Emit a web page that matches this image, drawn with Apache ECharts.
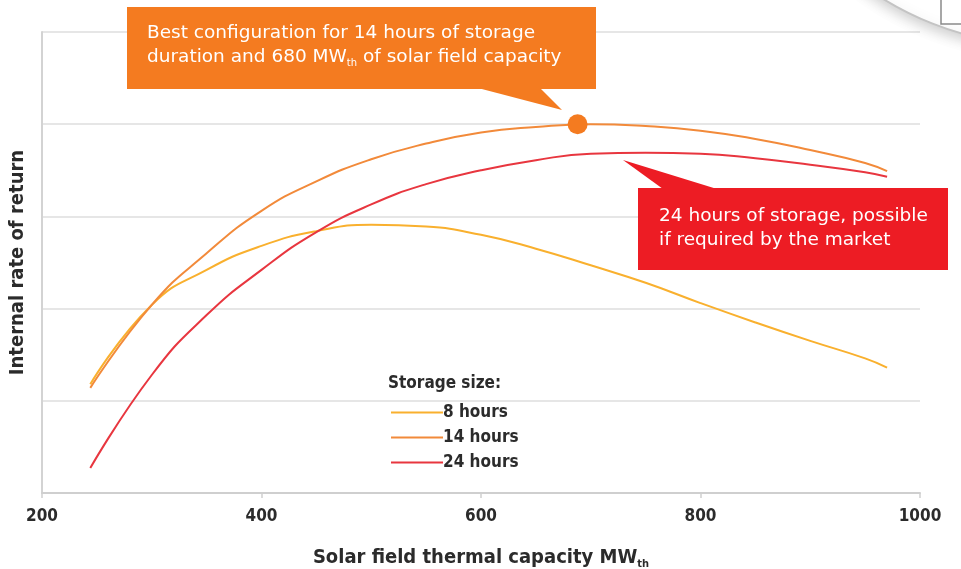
<!DOCTYPE html>
<html>
<head>
<meta charset="utf-8">
<script src="https://cdn.jsdelivr.net/npm/echarts@6/dist/echarts.min.js"></script>
<style>
  html, body { margin: 0; padding: 0; background: #fff; }
  #main { width: 961px; height: 569px; }
</style>
</head>
<body>
<div id="main"></div>
<script>
// solar field capacity (MWth) where the curves were read
var capacity = [244, 300, 350, 400, 450, 500, 550, 600, 650, 700, 750, 800, 850, 900, 950, 970];
// internal rate of return, arbitrary units (no y tick labels in the source)
var irr8h  = [1.18, 2.04, 2.42, 2.68, 2.84, 2.91, 2.89, 2.80, 2.65, 2.47, 2.28, 2.06, 1.85, 1.65, 1.46, 1.36];
var irr14h = [1.14, 2.04, 2.60, 3.06, 3.38, 3.62, 3.79, 3.91, 3.97, 4.00, 3.98, 3.93, 3.84, 3.72, 3.58, 3.49];
var irr24h = [0.27, 1.28, 1.93, 2.42, 2.83, 3.13, 3.35, 3.50, 3.61, 3.68, 3.69, 3.68, 3.63, 3.56, 3.48, 3.43];
var xTicks = [200, 400, 600, 800, 1000];
var bestPoint = [688, 4.0];

var condensed = '"Liberation Sans Narrow", "DejaVu Sans Condensed", sans-serif';
var bodyFont = '"DejaVu Sans", "Open Sans", sans-serif';

function pairs(xs, ys) {
  return xs.map(function (x, i) { return [x, ys[i]]; });
}

var chart = echarts.init(document.getElementById('main'));

var option = {
  backgroundColor: '#fff',
  animation: false,
  grid: { left: 42, right: 41, top: 32, bottom: 76, outerBoundsMode: 'none' },
  xAxis: {
    type: 'value',
    min: 200, max: 1000, interval: 200,
    name: 'Solar field thermal capacity MW{sub|th}',
    nameLocation: 'middle',
    nameGap: 52,
    nameTextStyle: {
      fontFamily: condensed, fontWeight: 'bold', fontSize: 20, color: '#2b2b2b',
      rich: { sub: { fontFamily: condensed, fontWeight: 'bold', fontSize: 11, color: '#2b2b2b', padding: [14, 0, 0, 0] } }
    },
    axisLine: { lineStyle: { color: '#cfcfcf', width: 2 } },
    axisTick: { show: true, length: 5, lineStyle: { color: '#cfcfcf', width: 1.5 } },
    axisLabel: {
      fontFamily: condensed, fontWeight: 'bold', fontSize: 17, color: '#2b2b2b', margin: 15,
      formatter: function (v) { return xTicks.indexOf(v) >= 0 ? String(v) : ''; }
    },
    splitLine: { show: false }
  },
  yAxis: {
    type: 'value',
    min: 0, max: 5, interval: 1,
    name: 'Internal rate of return',
    nameLocation: 'middle',
    nameGap: 14,
    nameTextStyle: { fontFamily: condensed, fontWeight: 'bold', fontSize: 20, color: '#2b2b2b' },
    axisLine: { show: true, lineStyle: { color: '#d3d3d3', width: 2 } },
    axisTick: { show: false },
    axisLabel: { show: false },
    splitLine: { lineStyle: { color: '#dedede', width: 1.5 } }
  },
  legend: {
    orient: 'vertical',
    left: 386, top: 399,
    itemWidth: 52, itemHeight: 2, itemGap: 8,
    icon: 'rect',
    textStyle: { fontFamily: condensed, fontWeight: 'bold', fontSize: 17, color: '#2b2b2b', padding: [0, 0, 0, -5] },
    data: ['8 hours', '14 hours', '24 hours']
  },
  series: [
    {
      name: '8 hours', type: 'line', smooth: true, showSymbol: false,
      data: pairs(capacity, irr8h),
      itemStyle: { color: '#F9B02E' },
      lineStyle: { color: '#F9B02E', width: 2 }
    },
    {
      name: '14 hours', type: 'line', smooth: true, showSymbol: false,
      data: pairs(capacity, irr14h),
      itemStyle: { color: '#F28A3A' },
      lineStyle: { color: '#F28A3A', width: 2 },
      markPoint: {
        symbol: 'circle', symbolSize: 20,
        itemStyle: { color: '#F47B20' },
        label: { show: false },
        data: [{ coord: bestPoint }]
      }
    },
    {
      name: '24 hours', type: 'line', smooth: true, showSymbol: false,
      data: pairs(capacity, irr24h),
      itemStyle: { color: '#E8363F' },
      lineStyle: { color: '#E8363F', width: 2 }
    }
  ],
  graphic: [
    // page-curl decoration top right
    {
      type: 'circle', z: 50,
      shape: { cx: 1045, cy: -262, r: 307 },
      style: { fill: '#fff', stroke: '#c4c4c4', lineWidth: 2, shadowBlur: 14, shadowColor: 'rgba(0,0,0,0.2)', shadowOffsetY: 4 }
    },
    {
      type: 'rect', z: 51,
      shape: { x: 941, y: -4, width: 40, height: 28 },
      style: { fill: '#fff', stroke: '#8a8a8a', lineWidth: 1.5 }
    },
    // legend heading
    {
      type: 'text', left: 388, top: 375, z: 60,
      style: { text: 'Storage size:', fontFamily: condensed, fontWeight: 'bold', fontSize: 17, fill: '#2b2b2b' }
    },
    // orange callout
    {
      type: 'polygon', z: 60,
      shape: { points: [[478, 88], [540, 88], [562, 110]] },
      style: { fill: '#F47B20' }
    },
    {
      type: 'rect', z: 60,
      shape: { x: 127, y: 7, width: 469, height: 82 },
      style: { fill: '#F47B20' }
    },
    {
      type: 'text', z: 61, left: 147, top: 21,
      style: {
        text: 'Best configuration for 14 hours of storage\nduration and 680 MW{sub|th} of solar field capacity',
        fontFamily: bodyFont, fontSize: 18.5, lineHeight: 24, fill: '#fff',
        rich: { sub: { fontFamily: bodyFont, fontSize: 10, fill: '#fff', padding: [12, 0, 0, 0] } }
      }
    },
    // red callout
    {
      type: 'polygon', z: 60,
      shape: { points: [[623, 160], [663, 189], [717, 189]] },
      style: { fill: '#ED1C24' }
    },
    {
      type: 'rect', z: 60,
      shape: { x: 638, y: 188, width: 310, height: 82 },
      style: { fill: '#ED1C24' }
    },
    {
      type: 'text', z: 61, left: 659, top: 204,
      style: {
        text: '24 hours of storage, possible\nif required by the market',
        fontFamily: bodyFont, fontSize: 18.5, lineHeight: 24, fill: '#fff'
      }
    }
  ]
};

chart.setOption(option);
</script>
</body>
</html>
